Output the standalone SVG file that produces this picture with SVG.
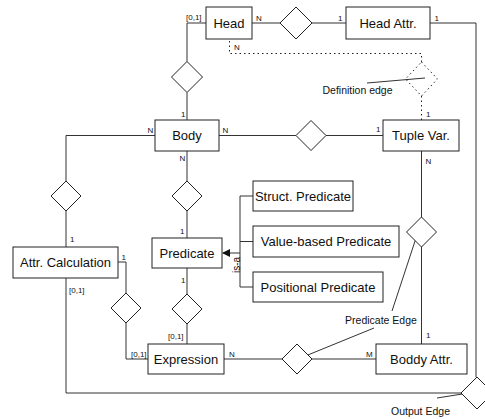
<svg xmlns="http://www.w3.org/2000/svg" width="485" height="419" viewBox="0 0 485 419">
<style>
.box{fill:#fff;stroke:#222;stroke-width:1}
.dia{fill:#fff;stroke:#222;stroke-width:1}
.dot{fill:none;stroke:#222;stroke-width:1;stroke-dasharray:1.5 3}
.ln{fill:none;stroke:#333;stroke-width:1}
.t{font-family:"Liberation Sans",Arial,sans-serif;font-size:13px;fill:#111;text-anchor:middle}
.s{font-family:"Liberation Sans",Arial,sans-serif;font-size:8px;fill:#111}
.l{font-family:"Liberation Sans",Arial,sans-serif;font-size:10.5px;fill:#111;text-anchor:middle}
.isa{font-family:"Liberation Sans",Arial,sans-serif;font-size:10px;fill:#111;text-anchor:middle}
</style>
<defs>
<marker id="arr" markerWidth="8" markerHeight="8" refX="7" refY="4" orient="auto" markerUnits="userSpaceOnUse">
<path d="M0,0 L8,4 L0,8 z" fill="#111"/>
</marker>
</defs>
<g id="connectors">
<polyline class="ln" points="252,23 280,23"/>
<polyline class="ln" points="312,23 346,23"/>
<polyline class="ln" points="430,23 476,23 476,377"/>
<polyline class="ln" points="206,23 187,23 187,61.5"/>
<polyline class="ln" points="187,92.5 187,120"/>
<polyline class="ln" points="155,135.5 66,135.5 66,181"/>
<polyline class="ln" points="66,211 66,247"/>
<polyline class="ln" points="66,278 66,393 461,393"/>
<polyline class="ln" points="187,151 187,181"/>
<polyline class="ln" points="187,211 187,238"/>
<polyline class="ln" points="219,135.5 296,135.5"/>
<polyline class="ln" points="326,135.5 383,135.5"/>
<polyline class="ln" points="421.5,151 421.5,217"/>
<polyline class="ln" points="421.5,247 421.5,344"/>
<polyline class="ln" points="118,262 126,262 126,293"/>
<polyline class="ln" points="126,323 126,359 148,359"/>
<polyline class="ln" points="187,268 187,294"/>
<polyline class="ln" points="187,324 187,344"/>
<polyline class="ln" points="224,359 282,359"/>
<polyline class="ln" points="312,359 376,359"/>
<polyline class="ln" points="253,196 240,196 240,287 253,287"/>
<polyline class="ln" points="240,241.5 253,241.5"/>
<line class="ln" x1="240" y1="253" x2="223" y2="253" stroke="#111" marker-end="url(#arr)"/>
<polyline class="dot" points="421.5,120 421.5,96"/>
<polyline class="dot" points="421.5,62 421.5,53.5 229.5,53.5 229.5,39"/>
<line class="ln" x1="367" y1="83" x2="425" y2="78" stroke="#111"/>
<line class="ln" x1="418" y1="232" x2="392" y2="311" stroke="#111"/>
<line class="ln" x1="374" y1="328" x2="298" y2="359" stroke="#111"/>
<line class="ln" x1="437" y1="398" x2="475" y2="392" stroke="#111"/>
</g>
<g id="rel-head-attr"><polygon class="dia" points="296,7 312,23 296,39 280,23"/></g>
<g id="rel-head-body"><polygon class="dia" points="187,61.5 202.5,77 187,92.5 171.5,77"/></g>
<g id="rel-body-calc"><polygon class="dia" points="66,181 81,196 66,211 51,196"/></g>
<g id="rel-body-pred"><polygon class="dia" points="187,181 202,196 187,211 172,196"/></g>
<g id="rel-body-tuple"><polygon class="dia" points="311,120.5 326,135.5 311,150.5 296,135.5"/></g>
<g id="rel-definition"><polygon class="dot" points="421.5,62 437.5,79 421.5,96 405.5,79"/></g>
<g id="rel-tuple-attr"><polygon class="dia" points="421.5,217 436.5,232 421.5,247 406.5,232"/></g>
<g id="rel-calc-expr"><polygon class="dia" points="126,293 141,308 126,323 111,308"/></g>
<g id="rel-pred-expr"><polygon class="dia" points="187,294 202,309 187,324 172,309"/></g>
<g id="rel-expr-attr"><polygon class="dia" points="297,344 312,359 297,374 282,359"/></g>
<g id="rel-output"><polygon class="dia" points="477,377 493,393 477,409 461,393"/></g>
<g id="head"><rect class="box" x="206" y="7" width="46" height="32"/><text class="t" x="229" y="27.5">Head</text></g>
<g id="head-attr"><rect class="box" x="346" y="7" width="84" height="32"/><text class="t" x="388" y="27.5">Head Attr.</text></g>
<g id="body"><rect class="box" x="155" y="120" width="64" height="31"/><text class="t" x="187" y="140">Body</text></g>
<g id="tuple-var"><rect class="box" x="383" y="120" width="76" height="31"/><text class="t" x="421" y="140">Tuple Var.</text></g>
<g id="struct-pred"><rect class="box" x="253" y="181" width="100" height="30"/><text class="t" x="303" y="200.5">Struct. Predicate</text></g>
<g id="value-pred"><rect class="box" x="253" y="226" width="146" height="31"/><text class="t" x="326" y="246">Value-based Predicate</text></g>
<g id="pos-pred"><rect class="box" x="253" y="272" width="130" height="30"/><text class="t" x="318" y="291.5">Positional Predicate</text></g>
<g id="predicate"><rect class="box" x="152" y="238" width="70" height="30"/><text class="t" x="187" y="257.5">Predicate</text></g>
<g id="attr-calc"><rect class="box" x="13" y="247" width="105" height="31"/><text class="t" x="65.5" y="267">Attr. Calculation</text></g>
<g id="expression"><rect class="box" x="148" y="344" width="76" height="30"/><text class="t" x="186" y="363.5">Expression</text></g>
<g id="boddy-attr"><rect class="box" x="376" y="344" width="91" height="30"/><text class="t" x="421.5" y="363.5">Boddy Attr.</text></g>
<g id="labels">
<text class="s" x="186" y="20">[0,1]</text>
<text class="s" x="256" y="21">N</text>
<text class="s" x="234" y="50">N</text>
<text class="s" x="338" y="21">1</text>
<text class="s" x="434.5" y="21">1</text>
<text class="s" x="181" y="117">1</text>
<text class="s" x="147.5" y="133">N</text>
<text class="s" x="222.5" y="133">N</text>
<text class="s" x="179.5" y="160.5">N</text>
<text class="s" x="180" y="234">1</text>
<text class="s" x="70" y="241.5">1</text>
<text class="s" x="121.5" y="260">1</text>
<text class="s" x="181" y="283">1</text>
<text class="s" x="69" y="293">[0,1]</text>
<text class="s" x="168" y="339">[0,1]</text>
<text class="s" x="131" y="357">[0,1]</text>
<text class="s" x="229" y="357">N</text>
<text class="s" x="366" y="356.5">M</text>
<text class="s" x="426" y="338">1</text>
<text class="s" x="425.5" y="164">N</text>
<text class="s" x="426" y="117">1</text>
<text class="s" x="376" y="131.5">1</text>
<text class="isa" x="0" y="0" transform="translate(239.5,265) rotate(-90)">is-a</text>
<text class="l" x="357.5" y="94">Definition edge</text>
<text class="l" x="381" y="324">Predicate Edge</text>
<text class="l" x="420.5" y="415">Output Edge</text>
</g>
</svg>
